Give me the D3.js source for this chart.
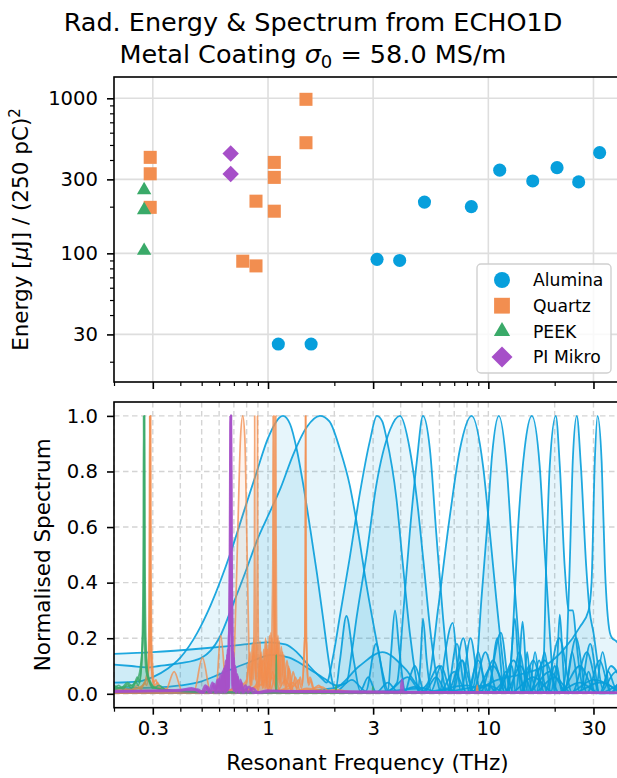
<!DOCTYPE html>
<html>
<head>
<meta charset="utf-8">
<script src="https://cdn.jsdelivr.net/npm/d3@7"></script>
<style>
  body { margin: 0; background: #fff; }
  svg { font-family: "DejaVu Sans", sans-serif; }
</style>
</head>
<body>
<div id="chart"></div>
<script>
// ---- data ----
const materials = ["Alumina", "Quartz", "PEEK", "PI Mikro"];
const colors = ["#079fdc", "#f28e50", "#3aaa69", "#a64fc8"];

// top panel: resonant frequency (THz) and energy (uJ)
const aluminaFreq = [1.114, 1.569, 3.125, 3.959, 5.13, 8.37, 11.26, 15.9, 20.5, 25.7, 32.0];
const aluminaEnergy = [26, 26, 91.5, 90, 214, 200, 344, 293, 357, 289, 446];
const quartzFreq = [0.292, 0.292, 0.292, 0.768, 0.882, 0.882, 1.068, 1.068, 1.068, 1.487, 1.487];
const quartzEnergy = [416, 326, 198, 89, 217, 83, 386, 309, 187, 985, 517];
const peekFreq = [0.274, 0.274, 0.274];
const peekEnergy = [256, 190, 104];
const piFreq = [0.677, 0.677];
const piEnergy = [441, 325];

const xMajor = [0.3, 1, 3, 10, 30];
const xMinor = [0.2, 0.4, 0.5, 0.6, 0.7, 0.8, 0.9, 2, 4, 5, 6, 7, 8, 9, 20, 40];
const yTopMajor = [30, 100, 300, 1000];
const yTopMinor = [20, 40, 50, 60, 70, 80, 90, 200, 400, 500, 600, 700, 800, 900];
const yBotTicks = [0, 0.2, 0.4, 0.6, 0.8, 1.0];

// bottom panel: normalised spectra, [frequency THz, value]
const aluminaSpectra = [
  [[0.2,0.04],[0.26,0.045],[0.3,0.06],[0.35,0.09],[0.4,0.13],[0.478,0.22],[0.55,0.32],[0.678,0.51],[0.78,0.66],[0.89,0.8],[1.0,0.92],[1.17,1.0],[1.26,0.97],[1.35,0.88],[1.44,0.76],[1.55,0.6],[1.67,0.43],[1.78,0.27],[1.87,0.14],[1.95,0.05],[2.02,0.01],[2.12,0.12],[2.27,0.28],[2.45,0.12],[2.62,0.01],[2.85,0.06],[3.1,0.005],[3.5,0.04],[3.9,0.005],[4.6,0.025],[5.3,0.004],[6.5,0.015],[8,0.003],[10,0.03],[11,0.004],[12,0.08],[13,0.004],[40,0.003]],
  [[0.2,0.105],[0.24,0.1],[0.28,0.095],[0.32,0.1],[0.4,0.11],[0.5,0.13],[0.6,0.2],[0.7,0.33],[0.8,0.45],[0.9,0.56],[1.0,0.64],[1.14,0.74],[1.3,0.86],[1.5,0.96],[1.72,1.0],[1.9,0.98],[2.12,0.88],[2.35,0.75],[2.52,0.62],[2.8,0.39],[3.11,0.19],[3.35,0.06],[3.5,0.01],[3.62,0.15],[3.77,0.3],[3.95,0.15],[4.2,0.01],[4.4,0.06],[4.64,0.1],[4.9,0.05],[5.1,0.005],[5.8,0.06],[6.5,0.005],[7.6,0.12],[8.6,0.004],[10.5,0.1],[12.5,0.003],[16,0.06],[20,0.002],[26,0.04],[32,0.002],[40,0.002]],
  [[0.2,0.144],[0.3,0.15],[0.5,0.163],[0.75,0.176],[1.0,0.185],[1.2,0.178],[1.35,0.15],[1.5,0.11],[1.65,0.075],[1.78,0.05],[1.84,0.04],[1.98,0.14],[2.12,0.28],[2.35,0.49],[2.61,0.72],[2.9,0.91],[3.12,1.0],[3.3,0.98],[3.45,0.92],[3.83,0.7],[4.1,0.46],[4.4,0.22],[4.73,0.04],[4.8,0.01],[4.92,0.12],[5.05,0.27],[5.25,0.12],[5.5,0.01],[6.1,0.1],[6.8,0.005],[7.7,0.2],[8.5,0.005],[9.7,0.15],[11,0.004],[13,0.12],[15,0.003],[19,0.08],[23,0.002],[30,0.05],[40,0.002]],
  [[0.2,0.02],[0.3,0.022],[0.4,0.03],[0.5,0.045],[0.6,0.07],[0.8,0.11],[1.05,0.14],[1.25,0.13],[1.5,0.095],[1.8,0.055],[2.05,0.03],[2.27,0.04],[2.4,0.15],[2.53,0.28],[2.8,0.5],[3.1,0.75],[3.58,0.95],[3.97,1.0],[4.4,0.88],[4.74,0.7],[5.07,0.48],[5.43,0.24],[5.9,0.04],[6.05,0.01],[6.3,0.12],[6.9,0.255],[7.2,0.12],[7.5,0.005],[8.3,0.2],[9.2,0.005],[10.5,0.12],[12,0.003],[14,0.1],[16,0.002],[20,0.06],[24,0.002],[32,0.04],[40,0.002]],
  [[0.2,0.005],[1.0,0.005],[1.5,0.01],[2.0,0.005],[2.4,0.05],[2.78,0.01],[3.09,0.18],[3.45,0.01],[3.85,0.04],[4.1,0.28],[4.4,0.58],[4.74,0.84],[5.05,1.0],[5.43,0.88],[5.8,0.58],[6.22,0.28],[6.69,0.04],[6.9,0.005],[7.6,0.12],[8.2,0.005],[9.0,0.15],[9.8,0.005],[11.4,0.22],[12.6,0.005],[13.8,0.15],[15.2,0.003],[18,0.12],[21,0.002],[26,0.1],[31,0.002],[40,0.04]],
  [[0.2,0.004],[1.0,0.005],[2.0,0.02],[2.6,0.1],[3.3,0.15],[4.2,0.09],[5.0,0.02],[5.32,0.04],[5.9,0.3],[6.69,0.64],[7.43,0.88],[8.4,1.0],[9.46,0.82],[10.16,0.58],[10.87,0.34],[11.7,0.1],[12.1,0.005],[12.6,0.1],[13.2,0.27],[13.7,0.1],[14.1,0.005],[16,0.12],[18,0.005],[21,0.2],[24,0.003],[28,0.15],[32,0.002],[38,0.08],[40,0.06]],
  [[0.2,0.003],[2,0.004],[3.5,0.01],[4.3,0.06],[5.0,0.005],[6.0,0.1],[6.5,0.005],[7.2,0.18],[7.9,0.005],[8.5,0.02],[8.85,0.1],[9.3,0.34],[9.83,0.58],[10.4,0.86],[11.16,1.0],[12.1,0.82],[12.95,0.46],[13.65,0.22],[14.1,0.07],[14.4,0.005],[15.0,0.15],[15.7,0.005],[17,0.12],[18.5,0.005],[20,0.1],[22,0.005],[25,0.2],[28,0.003],[32,0.12],[36,0.003],[40,0.06]],
  [[0.2,0.003],[3,0.005],[5,0.02],[6,0.004],[7,0.08],[8,0.004],[9,0.12],[10,0.005],[11,0.2],[11.8,0.005],[12.4,0.03],[12.92,0.22],[13.6,0.58],[14.6,0.88],[15.75,1.0],[17.1,0.82],[18.0,0.52],[19.0,0.22],[19.6,0.06],[20,0.005],[20.6,0.14],[21.1,0.285],[21.7,0.14],[22.3,0.005],[24,0.15],[26,0.005],[29,0.18],[32,0.003],[36,0.1],[40,0.05]],
  [[0.2,0.003],[5,0.005],[8,0.03],[10,0.005],[12,0.06],[12.8,0.1],[13.3,0.005],[13.8,0.1],[14.3,0.26],[14.8,0.1],[15.3,0.005],[16.3,0.15],[17.3,0.01],[17.8,0.1],[18.3,0.46],[19.0,0.82],[20.24,1.0],[21.1,0.82],[22.2,0.46],[23.2,0.3],[24.2,0.3],[25,0.2],[26,0.08],[27,0.02],[28.5,0.08],[30.5,0.005],[33,0.15],[36,0.005],[40,0.06]],
  [[0.2,0.003],[6,0.005],[10,0.03],[12,0.005],[14,0.005],[15.3,0.1],[16.5,0.005],[18,0.15],[19.2,0.005],[20.5,0.1],[21.5,0.01],[22.2,0.05],[22.8,0.2],[23.4,0.46],[24.2,0.85],[25.2,1.0],[26.3,0.82],[27.8,0.46],[28.8,0.3],[30,0.22],[31.5,0.1],[33,0.02],[35,0.08],[38,0.02],[40,0.05]],
  [[0.2,0.003],[8,0.005],[11,0.05],[14,0.07],[18,0.1],[22,0.16],[26,0.24],[28.5,0.3],[29.4,0.4],[30.4,0.83],[31.3,1.0],[32.7,0.83],[33.8,0.46],[35.6,0.22],[36.5,0.2],[38,0.19],[40,0.17]]
];

const quartzSpectra = [
  [[0.2,0.015],[0.22,0.02],[0.24,0.012],[0.255,0.03],[0.265,0.015],[0.275,0.04],[0.282,0.03],[0.286,0.08],[0.289,0.2],[0.2905,0.45],[0.2915,1.0],[0.2925,0.45],[0.294,0.2],[0.297,0.08],[0.302,0.04],[0.31,0.05],[0.32,0.015],[0.34,0.02],[0.37,0.008],[0.45,0.01],[0.7,0.005],[1.5,0.004],[40,0.002]],
  [[0.2,0.01],[0.23,0.015],[0.26,0.02],[0.28,0.05],[0.288,0.1],[0.291,0.2],[0.2925,0.45],[0.2935,1.0],[0.2945,0.45],[0.296,0.2],[0.3,0.09],[0.306,0.03],[0.315,0.04],[0.33,0.01],[0.5,0.006],[1.5,0.004],[40,0.002]],
  [[0.2,0.012],[0.25,0.018],[0.27,0.03],[0.28,0.06],[0.286,0.12],[0.2885,0.3],[0.2895,0.6],[0.2905,1.0],[0.2915,0.6],[0.2925,0.3],[0.295,0.12],[0.3,0.05],[0.31,0.02],[0.4,0.008],[1.5,0.004],[40,0.002]],
  [[0.2,0.005],[0.3,0.01],[0.34,0.005],[0.375,0.08],[0.41,0.005],[0.46,0.005],[0.504,0.13],[0.55,0.005],[0.58,0.01],[0.61,0.21],[0.65,0.01],[0.69,0.02],[0.71,0.25],[0.73,0.6],[0.75,0.92],[0.768,1.0],[0.785,0.92],[0.8,0.6],[0.815,0.25],[0.83,0.02],[0.86,0.15],[0.9,0.01],[0.95,0.12],[1.0,0.01],[1.05,0.08],[1.1,0.01],[1.2,0.05],[1.3,0.005],[2,0.005],[40,0.002]],
  [[0.2,0.005],[0.5,0.008],[0.7,0.015],[0.76,0.03],[0.8,0.05],[0.82,0.12],[0.835,0.03],[0.848,0.18],[0.858,0.05],[0.864,0.25],[0.868,0.5],[0.87,1.0],[0.872,0.5],[0.876,0.25],[0.882,0.05],[0.892,0.18],[0.905,0.03],[0.925,0.14],[0.945,0.02],[0.975,0.1],[1.0,0.015],[1.04,0.06],[1.1,0.01],[1.3,0.008],[2,0.005],[40,0.002]],
  [[0.2,0.005],[0.5,0.008],[0.75,0.02],[0.8,0.04],[0.83,0.15],[0.845,0.03],[0.862,0.2],[0.876,0.05],[0.889,0.25],[0.894,0.5],[0.896,1.0],[0.898,0.5],[0.903,0.25],[0.91,0.05],[0.92,0.19],[0.935,0.03],[0.955,0.16],[0.975,0.02],[1.005,0.12],[1.03,0.015],[1.08,0.07],[1.13,0.01],[1.4,0.008],[2,0.005],[40,0.002]],
  [[0.2,0.004],[0.6,0.006],[0.85,0.02],[0.9,0.05],[0.93,0.15],[0.95,0.03],[0.975,0.2],[0.995,0.04],[1.015,0.21],[1.03,0.05],[1.045,0.3],[1.052,0.5],[1.055,1.0],[1.058,0.5],[1.065,0.3],[1.08,0.05],[1.1,0.2],[1.12,0.04],[1.15,0.17],[1.18,0.03],[1.22,0.12],[1.26,0.02],[1.3,0.08],[1.36,0.01],[1.5,0.02],[2,0.005],[40,0.002]],
  [[0.2,0.004],[0.7,0.008],[0.9,0.03],[0.94,0.12],[0.96,0.02],[0.985,0.19],[1.005,0.03],[1.03,0.22],[1.05,0.06],[1.062,0.35],[1.067,0.6],[1.07,1.0],[1.073,0.6],[1.078,0.35],[1.09,0.06],[1.11,0.21],[1.13,0.03],[1.165,0.15],[1.2,0.02],[1.24,0.1],[1.28,0.015],[1.33,0.06],[1.4,0.01],[2,0.005],[40,0.002]],
  [[0.2,0.004],[0.8,0.01],[0.95,0.04],[1.0,0.16],[1.02,0.03],[1.045,0.2],[1.065,0.05],[1.077,0.3],[1.082,0.6],[1.085,1.0],[1.088,0.6],[1.093,0.3],[1.105,0.05],[1.125,0.19],[1.145,0.03],[1.18,0.14],[1.21,0.02],[1.25,0.09],[1.3,0.01],[1.45,0.015],[2,0.005],[40,0.002]],
  [[0.2,0.003],[0.8,0.005],[1.1,0.01],[1.2,0.02],[1.3,0.04],[1.36,0.02],[1.4,0.06],[1.43,0.03],[1.45,0.1],[1.465,0.19],[1.472,0.2],[1.477,0.5],[1.48,1.0],[1.483,0.5],[1.488,0.2],[1.495,0.18],[1.51,0.08],[1.53,0.03],[1.56,0.05],[1.6,0.02],[1.7,0.03],[1.8,0.01],[2.0,0.015],[2.5,0.005],[8.8,0.003],[8.9,0.03],[9.0,0.003],[40,0.002]],
  [[0.2,0.003],[0.9,0.006],[1.2,0.015],[1.32,0.03],[1.38,0.05],[1.42,0.02],[1.455,0.12],[1.47,0.21],[1.479,0.5],[1.483,1.0],[1.487,0.5],[1.495,0.21],[1.505,0.1],[1.52,0.04],[1.55,0.06],[1.62,0.02],[1.75,0.025],[1.9,0.01],[2.3,0.008],[40,0.002]]
];

const peekSpectra = [
  [[0.2,0.02],[0.21,0.03],[0.22,0.018],[0.23,0.035],[0.24,0.02],[0.25,0.045],[0.258,0.03],[0.264,0.07],[0.268,0.12],[0.27,0.22],[0.272,0.22],[0.273,0.5],[0.274,1.0],[0.275,0.5],[0.276,0.22],[0.278,0.18],[0.281,0.1],[0.285,0.06],[0.29,0.04],[0.3,0.02],[0.32,0.03],[0.35,0.01],[0.45,0.008],[0.7,0.005],[1.0,0.005],[1.085,0.01],[1.09,0.14],[1.095,0.01],[2.03,0.005],[2.035,0.03],[2.04,0.005],[40,0.002]],
  [[0.2,0.015],[0.22,0.025],[0.24,0.03],[0.255,0.05],[0.263,0.09],[0.268,0.15],[0.271,0.21],[0.2745,0.5],[0.2755,1.0],[0.2765,0.5],[0.279,0.2],[0.283,0.09],[0.29,0.05],[0.31,0.02],[0.4,0.01],[1,0.005],[2.98,0.004],[2.99,0.025],[3.0,0.004],[40,0.002]],
  [[0.2,0.03],[0.215,0.02],[0.23,0.04],[0.245,0.025],[0.255,0.06],[0.262,0.04],[0.266,0.1],[0.269,0.2],[0.2715,0.5],[0.2725,1.0],[0.2735,0.5],[0.275,0.2],[0.28,0.08],[0.288,0.05],[0.3,0.025],[0.34,0.015],[0.5,0.006],[1,0.004],[40,0.002]]
];

const piSpectra = [
  [[0.2,0.008],[0.3,0.01],[0.4,0.012],[0.45,0.02],[0.5,0.005],[0.52,0.03],[0.54,0.005],[0.56,0.04],[0.575,0.005],[0.59,0.05],[0.6,0.005],[0.61,0.07],[0.62,0.005],[0.63,0.09],[0.638,0.005],[0.645,0.12],[0.652,0.01],[0.658,0.16],[0.663,0.02],[0.667,0.22],[0.671,0.45],[0.677,1.0],[0.683,0.45],[0.687,0.22],[0.691,0.02],[0.696,0.15],[0.7,0.01],[0.708,0.1],[0.715,0.005],[0.725,0.07],[0.735,0.005],[0.75,0.05],[0.765,0.005],[0.79,0.03],[0.81,0.005],[0.85,0.02],[0.9,0.005],[1.0,0.012],[1.2,0.008],[2,0.008],[4.0,0.006],[4.06,0.05],[4.12,0.006],[10,0.005],[40,0.004]],
  [[0.2,0.01],[0.35,0.012],[0.48,0.015],[0.51,0.004],[0.53,0.025],[0.55,0.004],[0.57,0.035],[0.585,0.004],[0.6,0.055],[0.612,0.004],[0.622,0.08],[0.632,0.005],[0.64,0.1],[0.648,0.008],[0.654,0.14],[0.66,0.015],[0.665,0.2],[0.67,0.23],[0.675,0.5],[0.679,1.0],[0.683,0.5],[0.688,0.23],[0.694,0.03],[0.699,0.13],[0.704,0.01],[0.712,0.09],[0.72,0.005],[0.73,0.06],[0.742,0.005],[0.758,0.04],[0.775,0.005],[0.82,0.025],[0.86,0.004],[1.1,0.01],[3,0.006],[40,0.004]]
];

// ---- layout ----
const width = 617, height = 778;
const left = 114, right = 621;
const top1 = 77, bot1 = 382, top2 = 402, bot2 = 707.7;

const svg = d3.select('#chart').append('svg')
  .attr('width', width)
  .attr('height', height);

const x = d3.scaleLog().domain([0.2, 40]).range([left, right]);
const yTop = d3.scaleLog().domain([14.8, 1372]).range([bot1, top1]);
const yBot = d3.scaleLinear().domain([-0.05, 1.05]).range([bot2, top2]);

const defs = svg.append('defs');
defs.append('clipPath').attr('id', 'clipTop')
  .append('rect').attr('x', left).attr('y', top1).attr('width', right - left).attr('height', bot1 - top1);
defs.append('clipPath').attr('id', 'clipBot')
  .append('rect').attr('x', left).attr('y', top2).attr('width', right - left).attr('height', bot2 - top2);

// ---- title ----
const title = svg.append('text')
  .attr('text-anchor', 'middle')
  .attr('font-size', 25.5)
  .attr('fill', '#000');
title.append('tspan').attr('x', 313).attr('y', 31).text('Rad. Energy & Spectrum from ECHO1D');
const t2 = title.append('tspan').attr('x', 313).attr('y', 63);
t2.append('tspan').text('Metal Coating ');
t2.append('tspan').attr('font-style', 'italic').text('σ');
t2.append('tspan').attr('font-size', 18).attr('dy', 5).text('0');
t2.append('tspan').attr('dy', -5).text(' = 58.0 MS/m');

// ---- top panel ----
const gTop = svg.append('g');

// grid (major only, solid)
gTop.append('g').selectAll('line').data(xMajor).join('line')
  .attr('x1', d => x(d)).attr('x2', d => x(d))
  .attr('y1', top1).attr('y2', bot1)
  .attr('stroke', '#dedede').attr('stroke-width', 1.6);
gTop.append('g').selectAll('line').data(yTopMajor).join('line')
  .attr('x1', left).attr('x2', right)
  .attr('y1', d => yTop(d)).attr('y2', d => yTop(d))
  .attr('stroke', '#dedede').attr('stroke-width', 1.6);

// scatter
const scatterSets = [
  {freq: aluminaFreq, energy: aluminaEnergy, type: d3.symbolCircle, size: 135, rot: 0},
  {freq: quartzFreq, energy: quartzEnergy, type: d3.symbolSquare, size: 170, rot: 0},
  {freq: peekFreq, energy: peekEnergy, type: d3.symbolTriangle, size: 90, rot: 0},
  {freq: piFreq, energy: piEnergy, type: d3.symbolSquare, size: 135, rot: 45}
];
const gPts = gTop.append('g').attr('clip-path', 'url(#clipTop)');
scatterSets.forEach((s, k) => {
  gPts.append('g').selectAll('path')
    .data(s.freq.map((f, i) => [f, s.energy[i]]))
    .join('path')
    .attr('transform', d => `translate(${x(d[0])},${yTop(d[1])}) rotate(${s.rot})`)
    .attr('d', d3.symbol().type(s.type).size(s.size))
    .attr('fill', colors[k]);
});

// axes
function styleAxis(g, fs) {
  g.selectAll('.domain').remove();
  g.selectAll('.tick line').attr('stroke', '#000').attr('stroke-width', 1.6);
  g.selectAll('.tick text').attr('font-size', fs).attr('fill', '#000')
    .attr('font-family', '"DejaVu Sans", sans-serif');
}

gTop.append('g').attr('transform', `translate(0,${bot1})`)
  .call(d3.axisBottom(x).tickValues(xMajor).tickSize(7).tickFormat(''))
  .call(g => styleAxis(g, 19.6));
gTop.append('g').attr('transform', `translate(0,${bot1})`)
  .call(d3.axisBottom(x).tickValues(xMinor.filter(v => v < 40)).tickSize(4).tickFormat(''))
  .call(g => styleAxis(g, 19.6))
  .selectAll('.tick line').attr('stroke-width', 1.2);
gTop.append('g').attr('transform', `translate(${left},0)`)
  .call(d3.axisLeft(yTop).tickValues(yTopMajor).tickSize(7).tickPadding(9).tickFormat(d3.format('d')))
  .call(g => styleAxis(g, 19.6));
gTop.append('g').attr('transform', `translate(${left},0)`)
  .call(d3.axisLeft(yTop).tickValues(yTopMinor).tickSize(4).tickFormat(''))
  .call(g => styleAxis(g, 19.6))
  .selectAll('.tick line').attr('stroke-width', 1.2);

gTop.append('rect')
  .attr('x', left).attr('y', top1).attr('width', right - left).attr('height', bot1 - top1)
  .attr('fill', 'none').attr('stroke', '#000').attr('stroke-width', 1.6);

const yLab1 = gTop.append('text')
  .attr('transform', `translate(28,${(top1 + bot1) / 2}) rotate(-90)`)
  .attr('text-anchor', 'middle').attr('font-size', 21.5);
yLab1.append('tspan').text('Energy [');
yLab1.append('tspan').attr('font-style', 'italic').text('μ');
yLab1.append('tspan').text('J] / (250 pC)');
yLab1.append('tspan').attr('font-size', 15).attr('dy', -8).text('2');

// legend
const leg = gTop.append('g');
leg.append('rect')
  .attr('x', 477).attr('y', 264).attr('width', 134).attr('height', 109).attr('rx', 4)
  .attr('fill', '#fff').attr('fill-opacity', 0.8)
  .attr('stroke', '#d0d0d0').attr('stroke-width', 1.4);
const legSizes = [200, 250, 115, 220];
materials.forEach((m, i) => {
  const cy = 280 + i * 25.7;
  leg.append('path')
    .attr('transform', `translate(502,${cy}) rotate(${scatterSets[i].rot})`)
    .attr('d', d3.symbol().type(scatterSets[i].type).size(legSizes[i]))
    .attr('fill', colors[i]);
  leg.append('text').attr('x', 533).attr('y', cy + 6.3)
    .attr('font-size', 17.2).text(m);
});

// ---- bottom panel ----
const gBot = svg.append('g');

gBot.append('g').selectAll('line').data(xMajor.concat(xMinor)).join('line')
  .attr('x1', d => x(d)).attr('x2', d => x(d))
  .attr('y1', top2).attr('y2', bot2)
  .attr('stroke', '#d4d4d4').attr('stroke-width', 1.4).attr('stroke-dasharray', '5.5,3.5');
gBot.append('g').selectAll('line').data(yBotTicks).join('line')
  .attr('x1', left).attr('x2', right)
  .attr('y1', d => yBot(d)).attr('y2', d => yBot(d))
  .attr('stroke', '#d4d4d4').attr('stroke-width', 1.4).attr('stroke-dasharray', '5.5,3.5');

const line = d3.line().x(d => x(d[0])).y(d => yBot(d[1])).curve(d3.curveMonotoneX);
const area = d3.area().x(d => x(d[0])).y0(yBot(0)).y1(d => yBot(d[1])).curve(d3.curveMonotoneX);

const gSpec = gBot.append('g').attr('clip-path', 'url(#clipBot)');
const specSets = [
  {data: aluminaSpectra, color: colors[0], lw: 1.8, alpha: 0.9},
  {data: quartzSpectra, color: colors[1], lw: 1.7, alpha: 0.78},
  {data: peekSpectra, color: colors[2], lw: 1.7, alpha: 0.8},
  {data: piSpectra, color: colors[3], lw: 2.6, alpha: 0.85}
];
specSets.forEach(s => {
  s.data.forEach(curve => {
    gSpec.append('path').attr('d', area(curve))
      .attr('fill', s.color).attr('fill-opacity', 0.1);
    gSpec.append('path').attr('d', line(curve))
      .attr('fill', 'none').attr('stroke', s.color)
      .attr('stroke-width', s.lw).attr('stroke-opacity', s.alpha)
      .attr('stroke-linejoin', 'round');
  });
});

gBot.append('g').attr('transform', `translate(0,${bot2})`)
  .call(d3.axisBottom(x).tickValues(xMajor).tickSize(7).tickPadding(6).tickFormat(d => d3.format('~g')(d)))
  .call(g => styleAxis(g, 19.6));
gBot.append('g').attr('transform', `translate(0,${bot2})`)
  .call(d3.axisBottom(x).tickValues(xMinor.filter(v => v < 40)).tickSize(4).tickFormat(''))
  .call(g => styleAxis(g, 19.6))
  .selectAll('.tick line').attr('stroke-width', 1.2);
gBot.append('g').attr('transform', `translate(${left},0)`)
  .call(d3.axisLeft(yBot).tickValues(yBotTicks).tickSize(7).tickPadding(9).tickFormat(d3.format('.1f')))
  .call(g => styleAxis(g, 19.6));

gBot.append('rect')
  .attr('x', left).attr('y', top2).attr('width', right - left).attr('height', bot2 - top2)
  .attr('fill', 'none').attr('stroke', '#000').attr('stroke-width', 1.6);

gBot.append('text')
  .attr('transform', `translate(50,${(top2 + bot2) / 2}) rotate(-90)`)
  .attr('text-anchor', 'middle').attr('font-size', 21.5)
  .text('Normalised Spectrum');

gBot.append('text')
  .attr('x', (left + right) / 2).attr('y', 770)
  .attr('text-anchor', 'middle').attr('font-size', 21.5)
  .text('Resonant Frequency (THz)');
</script>
</body>
</html>
